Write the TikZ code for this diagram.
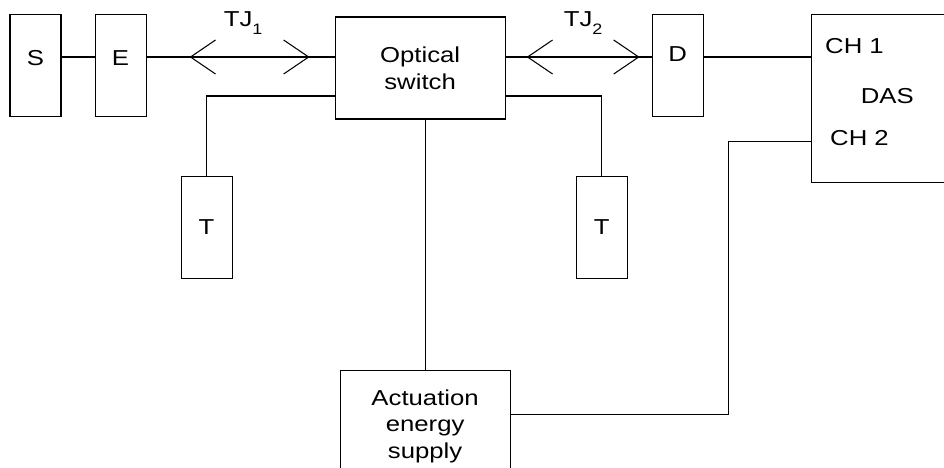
\documentclass[tikz,border=0pt]{standalone}
\usepackage{fontspec}
\setmainfont{Liberation Sans}[FakeStretch=1.19]
\usetikzlibrary{arrows.meta, positioning}
\newcommand{\tjsub}[1]{\raisebox{-4.6pt}{\fontsize{8.6}{9}\selectfont #1}}

\begin{document}
\begin{tikzpicture}[
    line width=0.6pt,
    b/.style={draw, align=center, inner sep=0pt, minimum width=1.02cm, minimum height=2.04cm},
    wide/.style={b, minimum width=3.4cm},
    tj/.style={{Straight Barb[length=0.5cm, width=0.68cm]}-{Straight Barb[length=0.5cm, width=0.68cm]}},
    lbl/.style={inner sep=0pt, anchor=base west}, font=\fontsize{12.3}{15.1}\selectfont]
    \useasboundingbox (0,0) rectangle (18.88,-9.34);
    \node[b, text depth=0.3cm] (S) at (0.71,-1.31) {S};
    \node[b, text depth=0.3cm, right=0.66cm of S] (E) {E};
    \node[wide, right=3.76cm of E, yshift=-0.05cm] (OS) {Optical\\switch};
    \node[b, text depth=0.44cm, right=2.92cm of OS, yshift=0.05cm] (D) {D};
    \node[b, minimum width=3.04cm, minimum height=3.36cm, text depth=0.12cm,
          right=2.14cm of D.north east, anchor=north west] (DAS) {DAS};
    \node[lbl] (ch1) at ([shift={(0.28cm,-0.8cm)}]DAS.north west) {CH 1};
    \node[lbl] (ch2) at ([shift={(0.38cm,-2.64cm)}]DAS.north west) {CH 2};
    \node[b, below left=1.12cm and 2.04cm of OS.south west] (Tl) {T};
    \node[b, below right=1.12cm and 1.4cm of OS.south east] (Tr) {T};
    \node[wide, minimum height=2.24cm, below=5cm of OS.south, xshift=0.1cm] (Act) {Actuation\\energy\\supply};
    \coordinate (bus) at ([yshift=0.17cm]S.east);
    % main line
    \draw (S.east |- bus) -- (E.west |- bus);
    \draw (E.east |- bus) -- (OS.west |- bus);
    \draw (OS.east |- bus) -- (D.west |- bus);
    \draw (D.east |- bus) -- (DAS.west |- bus);
    \draw[tj] ([shift={(0.86cm,0.17cm)}]E.east) -- ([shift={(-0.5cm,0.22cm)}]OS.west)
        node[midway, anchor=base, inner sep=0pt, yshift=0.62cm, xshift=-0.13cm] (tj1) {TJ\tjsub{1}};
    \draw[tj] ([shift={(0.42cm,0.22cm)}]OS.east) -- ([shift={(-0.24cm,0.17cm)}]D.west)
        node[midway, anchor=base, inner sep=0pt, yshift=0.62cm] (tj2) {TJ\tjsub{2}};
    % terminations and supply
    \draw ([yshift=-0.56cm]OS.west) -| (Tl.north);
    \draw ([yshift=-0.56cm]OS.east) -| (Tr.north);
    \draw (OS.south -| Act.north) -- (Act.north);
    \draw ([yshift=0.24cm]Act.east) -| ([shift={(-1.64cm,-0.86cm)}]DAS.west) -- ([yshift=-0.86cm]DAS.west);
\end{tikzpicture}
\end{document}
